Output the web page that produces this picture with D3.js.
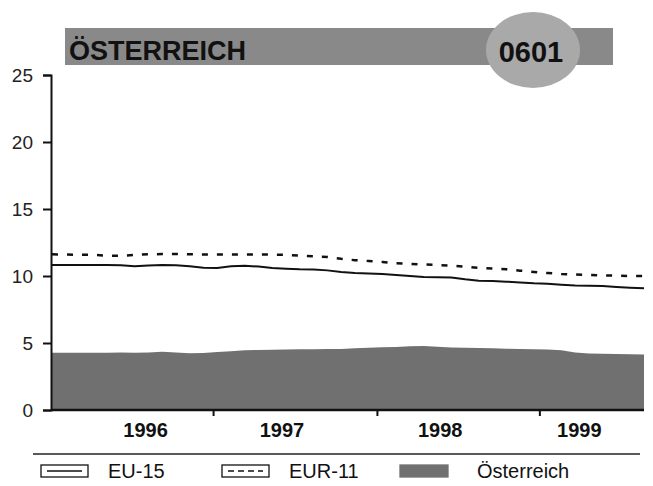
<!DOCTYPE html>
<html>
<head>
  <meta charset="utf-8">
  <title>Österreich 0601</title>
  <script src="https://d3js.org/d3.v7.min.js"></script>
  <style>
    body { margin: 0; background: #fff; }
    text { font-family: "Liberation Sans", Arial, sans-serif; }
  </style>
</head>
<body>
  <div id="chart"></div>
  <script>
    // monthly values, Jan 1996 .. Aug 1999
    var eu15 = [10.82, 10.82, 10.82, 10.82, 10.82, 10.8, 10.72, 10.78, 10.82, 10.8, 10.72, 10.62,
                10.6, 10.72, 10.76, 10.7, 10.6, 10.55, 10.5, 10.48, 10.42, 10.3, 10.22, 10.18,
                10.15, 10.08, 10.0, 9.92, 9.9, 9.88, 9.75, 9.65, 9.62, 9.58, 9.52, 9.45,
                9.42, 9.35, 9.3, 9.28, 9.26, 9.18, 9.12, 9.08];
    var eur11 = [11.62, 11.6, 11.58, 11.58, 11.52, 11.5, 11.58, 11.62, 11.64, 11.64, 11.62, 11.6,
                 11.6, 11.6, 11.6, 11.6, 11.6, 11.58, 11.52, 11.48, 11.42, 11.28, 11.18, 11.12,
                 11.05, 10.95, 10.9, 10.86, 10.82, 10.78, 10.7, 10.6, 10.55, 10.5, 10.4, 10.3,
                 10.22, 10.15, 10.12, 10.08, 10.05, 10.02, 10.0, 10.0];
    var oesterreich = [4.27, 4.27, 4.27, 4.27, 4.28, 4.3, 4.28, 4.3, 4.35, 4.3, 4.24, 4.25,
                       4.32, 4.38, 4.45, 4.48, 4.5, 4.52, 4.53, 4.53, 4.55, 4.55, 4.6, 4.65,
                       4.68, 4.7, 4.75, 4.77, 4.72, 4.66, 4.64, 4.62, 4.6, 4.58, 4.56, 4.54,
                       4.52, 4.45, 4.3, 4.22, 4.2, 4.18, 4.16, 4.15];
    var yTicks = [0, 5, 10, 15, 20, 25];
    var xTicks = [11.7, 23.6, 35.4];          // month positions of the axis ticks
    var yearLabels = ["1996", "1997", "1998", "1999"];
    var yearLabelPos = [6.8, 16.7, 28.2, 38.3];
    var legendNames = ["EU-15", "EUR-11", "Österreich"];

    var svg = d3.select("#chart").append("svg")
      .attr("width", 653)
      .attr("height", 486);

    var x = d3.scaleLinear().domain([0, eu15.length - 1]).range([52, 644]);
    var y = d3.scaleLinear().domain([0, 25]).range([410, 75]);

    // title band with the round badge
    svg.append("rect")
      .attr("x", 65).attr("y", 28)
      .attr("width", 548).attr("height", 37)
      .attr("fill", "#898989");
    svg.append("text")
      .attr("x", 69).attr("y", 60)
      .attr("font-size", 27).attr("font-weight", "bold")
      .attr("fill", "#111")
      .text("ÖSTERREICH");
    svg.append("ellipse")
      .attr("cx", 533).attr("cy", 50)
      .attr("rx", 47).attr("ry", 38)
      .attr("fill", "#a9a9a9");
    svg.append("text")
      .attr("x", 531).attr("y", 62)
      .attr("text-anchor", "middle")
      .attr("font-size", 29).attr("font-weight", "bold")
      .attr("fill", "#111")
      .text("0601");

    // Österreich area
    var area = d3.area()
      .x(function(d, i) { return x(i); })
      .y0(y(0))
      .y1(function(d) { return y(d); });
    svg.append("path")
      .datum(oesterreich)
      .attr("d", area)
      .attr("fill", "#707070");

    var line = d3.line()
      .x(function(d, i) { return x(i); })
      .y(function(d) { return y(d); });

    svg.append("path")
      .datum(eur11)
      .attr("d", line)
      .attr("fill", "none")
      .attr("stroke", "#111")
      .attr("stroke-width", 2.5)
      .attr("stroke-dasharray", "6,9");

    svg.append("path")
      .datum(eu15)
      .attr("d", line)
      .attr("fill", "none")
      .attr("stroke", "#111")
      .attr("stroke-width", 2);

    // y axis
    var yAxis = svg.append("g")
      .attr("transform", "translate(51,0)")
      .call(d3.axisLeft(y).tickValues(yTicks).tickSize(8).tickPadding(10));
    yAxis.select(".domain").attr("stroke", "#111").attr("stroke-width", 2);
    yAxis.selectAll(".tick line").attr("stroke", "#111").attr("stroke-width", 2);
    yAxis.selectAll(".tick text")
      .attr("font-size", 19)
      .attr("font-family", "Liberation Sans, Arial, sans-serif")
      .attr("fill", "#222");

    // x axis
    var xAxis = svg.append("g")
      .attr("transform", "translate(0,410)")
      .call(d3.axisBottom(x).tickValues(xTicks).tickSize(6).tickFormat(""));
    xAxis.select(".domain").attr("stroke", "#111").attr("stroke-width", 2.5)
      .attr("d", "M" + (x(0) - 1) + ",0H" + x(eu15.length - 1));
    xAxis.selectAll(".tick line").attr("stroke", "#111").attr("stroke-width", 2);

    svg.selectAll(".year")
      .data(yearLabels)
      .enter().append("text")
      .attr("class", "year")
      .attr("x", function(d, i) { return x(yearLabelPos[i]); })
      .attr("y", 437)
      .attr("text-anchor", "middle")
      .attr("font-size", 20).attr("font-weight", "bold")
      .attr("fill", "#111")
      .text(function(d) { return d; });

    // separator above legend
    svg.append("line")
      .attr("x1", 33).attr("x2", 640)
      .attr("y1", 454).attr("y2", 454)
      .attr("stroke", "#222").attr("stroke-width", 1.5);

    // legend
    var legX = [41, 222, 400];
    var leg = svg.selectAll(".leg")
      .data(legendNames)
      .enter().append("g")
      .attr("class", "leg")
      .attr("transform", function(d, i) { return "translate(" + legX[i] + ",465)"; });

    leg.append("rect")
      .attr("width", function(d, i) { return i === 2 ? 48 : 47; })
      .attr("height", 12)
      .attr("fill", function(d, i) { return i === 2 ? "#707070" : "#fff"; })
      .attr("stroke", function(d, i) { return i === 2 ? "#707070" : "#111"; })
      .attr("stroke-width", 1.3);

    leg.filter(function(d, i) { return i < 2; })
      .append("line")
      .attr("x1", 6).attr("x2", 41)
      .attr("y1", 6).attr("y2", 6)
      .attr("stroke", "#111")
      .attr("stroke-width", 1.6)
      .attr("stroke-dasharray", function(d, i) { return i === 1 ? "6,4" : null; });

    leg.append("text")
      .attr("x", function(d, i) { return i === 2 ? 77 : 67; })
      .attr("y", 13)
      .attr("font-size", 20)
      .attr("fill", "#111")
      .text(function(d) { return d; });
  </script>
</body>
</html>
